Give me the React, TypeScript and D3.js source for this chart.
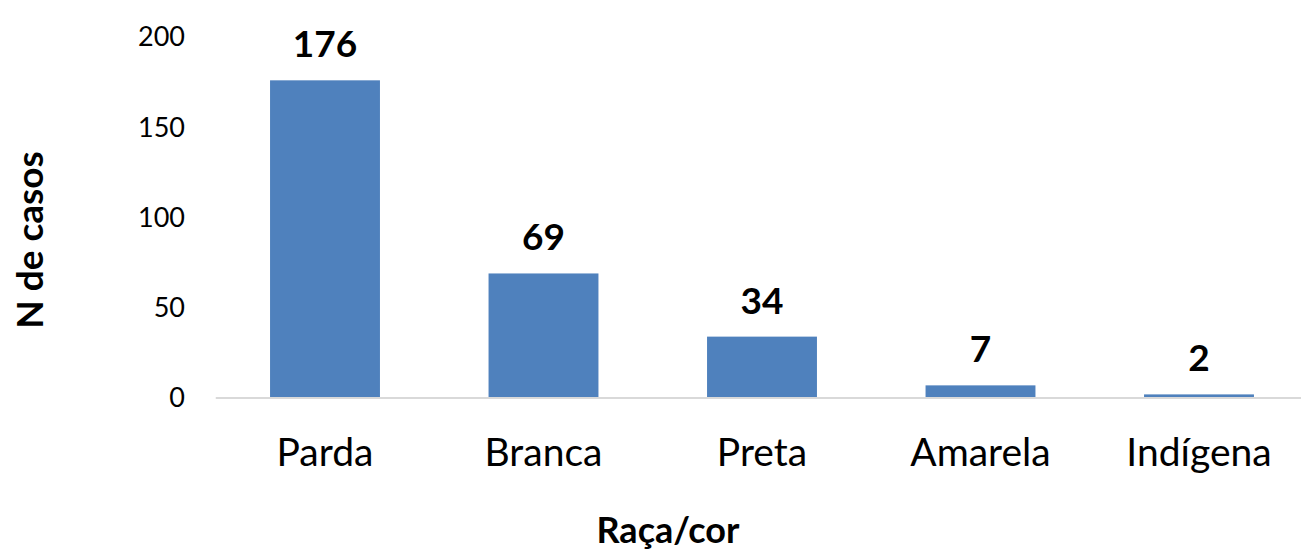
import React from "react";
import { scaleBand, scaleLinear } from "d3";

const categories = ["Parda", "Branca", "Preta", "Amarela", "Indígena"];
const casos = [176, 69, 34, 7, 2];
const yTicks = [0, 50, 100, 150, 200];

const FONT = "Lato, 'Open Sans', sans-serif";

export default function App() {
  const width = 1301;
  const height = 556;
  const plot = { left: 215.75, right: 1308.25, top: 37, bottom: 398 };

  const x = scaleBand<string>()
    .domain(categories)
    .range([plot.left, plot.right])
    .paddingInner(0.497)
    .paddingOuter(0.2485);
  const y = scaleLinear().domain([0, 200]).range([plot.bottom, plot.top]);

  return (
    <svg
      width={width}
      height={height}
      style={{ position: "absolute", left: 0, top: 0, background: "#fff" }}
    >
      {/* y tick labels */}
      {yTicks.map((t) => (
        <text
          key={t}
          x={185}
          y={y(t)}
          dy="0.35em"
          textAnchor="end"
          fontFamily={FONT}
          fontSize={27}
          fill="#000"
        >
          {t}
        </text>
      ))}

      {/* bars */}
      {categories.map((c, i) => (
        <g key={c}>
          <rect
            x={x(c)!}
            y={y(casos[i])}
            width={x.bandwidth()}
            height={y(0) - y(casos[i])}
            fill="#4F81BD"
          />
          <text
            x={x(c)! + x.bandwidth() / 2}
            y={y(casos[i]) - 23}
            textAnchor="middle"
            fontFamily={FONT}
            fontWeight="bold"
            fontSize={37}
            fill="#000"
          >
            {casos[i]}
          </text>
          <text
            x={x(c)! + x.bandwidth() / 2}
            y={466}
            textAnchor="middle"
            fontFamily={FONT}
            fontSize={39}
            fill="#000"
          >
            {c}
          </text>
        </g>
      ))}

      {/* x axis line */}
      <line
        x1={plot.left}
        x2={plot.right}
        y1={y(0)}
        y2={y(0)}
        stroke="#d9d9d9"
        strokeWidth={2}
      />

      {/* axis titles */}
      <text
        x={668}
        y={543}
        textAnchor="middle"
        fontFamily={FONT}
        fontWeight="bold"
        fontSize={36}
        fill="#000"
      >
        Raça/cor
      </text>
      <text
        transform="translate(43, 240) rotate(-90)"
        textAnchor="middle"
        fontFamily={FONT}
        fontWeight="bold"
        fontSize={37}
        fill="#000"
      >
        N de casos
      </text>
    </svg>
  );
}
